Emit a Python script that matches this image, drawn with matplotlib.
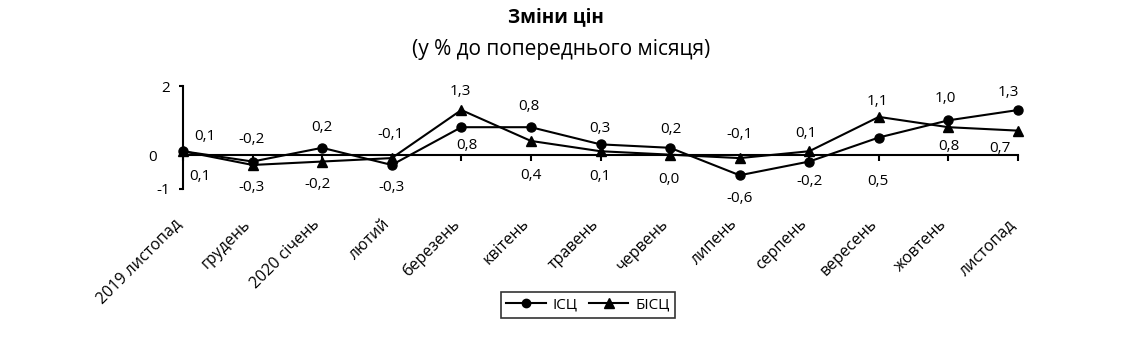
import matplotlib
matplotlib.use("Agg")
import matplotlib.pyplot as plt
from matplotlib.lines import Line2D

plt.rcParams['font.family'] = ['Open Sans', 'DejaVu Sans']

months = ["2019 листопад", "грудень", "2020 січень", "лютий", "березень",
          "квітень", "травень", "червень", "липень", "серпень", "вересень",
          "жовтень", "листопад"]
isc = [0.1, -0.2, 0.2, -0.3, 0.8, 0.8, 0.3, 0.2, -0.6, -0.2, 0.5, 1.0, 1.3]
bisc = [0.1, -0.3, -0.2, -0.1, 1.3, 0.4, 0.1, 0.0, -0.1, 0.1, 1.1, 0.8, 0.7]

# label offsets from each point, in pixels (dx right, dy down)
isc_off = [(22, -15), (-1, -22), (0, -20), (0, 23), (6, 18), (-2, -21), (-1, -16),
           (1, -18), (0, 23), (0, 20), (-1, 44), (-3, -22), (-10, -18)]
bisc_off = [(17, 25), (-1, 23), (-5, 23), (-1, -24), (-1, -19), (0, 35), (-1, 25),
            (-1, 25), (0, -24), (-3, -18), (-1, -15), (0, 19), (-18, 18)]

W, H = 1141, 346
fig = plt.figure(figsize=(W / 100, H / 100), dpi=100)
ax = fig.add_axes([183 / W, 1 - 189 / H, (1018 - 183) / W, (189 - 86) / H])

x = list(range(len(months)))
lw = 1.5
ax.plot(x, isc, color='black', lw=lw, marker='o', ms=6.5, clip_on=False, zorder=3)
ax.plot(x, bisc, color='black', lw=lw, marker='^', ms=7, clip_on=False, zorder=3)

ax.set_xlim(0, 12)
ax.set_ylim(-1, 2)

for s in ['top', 'right']:
    ax.spines[s].set_visible(False)
ax.spines['bottom'].set_position(('data', 0))
ax.spines['bottom'].set_linewidth(lw)
ax.spines['left'].set_linewidth(lw)

ax.set_xticks(x)
ax.set_xticklabels([])
ax.tick_params(axis='x', direction='out', length=4.5, width=lw)
ax.set_yticks([-1, 2])
ax.set_yticklabels(['-1', '2'], fontsize=11)
ax.tick_params(axis='y', direction='out', length=3, width=lw, pad=6)
ax.annotate("0", xy=(0, 0), xycoords='data', xytext=(-30, -3), textcoords='offset pixels',
            fontsize=11, ha='center', va='center')

def fmt(v):
    return f"{v:.1f}".replace('.', ',')

for i in x:
    for vals, offs in ((isc, isc_off), (bisc, bisc_off)):
        dx, dy = offs[i]
        ax.annotate(fmt(vals[i]), xy=(i, vals[i]), xytext=(dx, -dy),
                    textcoords='offset pixels', ha='center', va='center', fontsize=11)

# rotated category labels below the plot area
for i, m in enumerate(months):
    ax.annotate(m, xy=(i, 0), xycoords=('data', 'axes fraction'), xytext=(-10, -27),
                textcoords='offset pixels', rotation=45, ha='right', va='top',
                rotation_mode='anchor', fontsize=11.5)

fig.text(556 / W, 1 - 17 / H, "Зміни цін", ha='center', va='center',
         fontsize=13.5, fontweight='bold')
fig.text(561 / W, 1 - 49 / H, "(у % до попереднього місяця)", ha='center', va='center',
         fontsize=15)

handles = [Line2D([], [], color='black', lw=lw, marker='o', ms=6),
           Line2D([], [], color='black', lw=lw, marker='^', ms=6.5)]
leg = fig.legend(handles, ["ІСЦ", "БІСЦ"], loc='center', bbox_to_anchor=(588 / W, 1 - 305 / H),
                 ncol=2, fontsize=11, frameon=True, fancybox=False, edgecolor='black',
                 handlelength=2.6, handletextpad=0.45, columnspacing=0.7,
                 borderpad=0.35, borderaxespad=0)
leg.get_frame().set_linewidth(1.2)

fig.savefig("out.png", dpi=100)
